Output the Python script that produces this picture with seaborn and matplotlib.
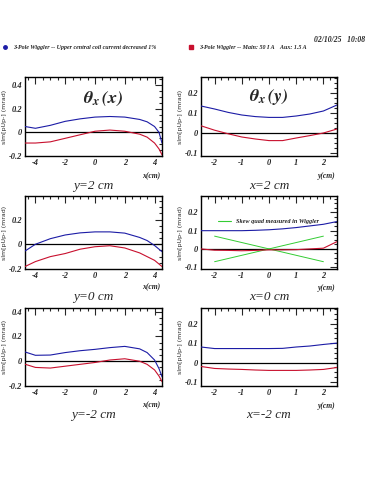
import numpy as np
import seaborn as sns
import matplotlib.pyplot as plt
from matplotlib.ticker import MultipleLocator
from matplotlib.lines import Line2D

# sample positions (cm)
x_pos = [-4.7, -4, -3, -2, -1, 0, 1, 2, 3, 3.5, 4, 4.3, 4.5]
y_pos = [-2.5, -2, -1.5, -1, -0.5, 0, 0.5, 1, 1.5, 2, 2.5]

# theta_x(x) at y = 2, 0, -2 cm
blue_y2 = [0.05, 0.035, 0.06, 0.094, 0.115, 0.13, 0.135, 0.13, 0.11, 0.09, 0.05, 0.0, -0.09]
red_y2 = [-0.09, -0.09, -0.08, -0.05, -0.02, 0.01, 0.02, 0.01, -0.015, -0.04, -0.09, -0.14, -0.19]
blue_y0 = [-0.055, 0.0, 0.045, 0.075, 0.092, 0.1, 0.1, 0.09, 0.055, 0.03, -0.01, -0.04, -0.06]
red_y0 = [-0.18, -0.14, -0.1, -0.075, -0.04, -0.02, -0.012, -0.03, -0.07, -0.1, -0.13, -0.16, -0.18]
blue_ym2 = [0.075, 0.048, 0.05, 0.07, 0.085, 0.096, 0.11, 0.12, 0.1, 0.07, 0.01, -0.06, -0.125]
red_ym2 = [-0.024, -0.05, -0.055, -0.04, -0.025, -0.01, 0.01, 0.02, 0.0, -0.025, -0.07, -0.12, -0.165]

# theta_x(y) at x = 2, 0, -2 cm
blue_x2 = [0.135, 0.12, 0.103, 0.09, 0.082, 0.078, 0.078, 0.085, 0.095, 0.11, 0.14]
red_x2 = [0.036, 0.014, -0.004, -0.02, -0.03, -0.038, -0.038, -0.025, -0.013, 0.0, 0.02]
blue_x0 = [0.1, 0.1, 0.1, 0.1, 0.102, 0.105, 0.11, 0.117, 0.126, 0.135, 0.15]
red_x0 = [0.0, -0.007, -0.008, -0.01, -0.008, -0.005, -0.005, -0.004, 0.0, 0.004, 0.04]
blue_xm2 = [0.08, 0.072, 0.072, 0.072, 0.072, 0.072, 0.073, 0.08, 0.085, 0.093, 0.1]
red_xm2 = [-0.02, -0.03, -0.033, -0.035, -0.038, -0.04, -0.04, -0.04, -0.038, -0.035, -0.025]

# skew quad lines
skew_y = [-2, 2]
skew_a = [0.07, -0.07]
skew_b = [-0.07, 0.07]

BLUE = '#1c1ca6'
RED = '#c8102e'
GREEN = '#33cc33'

sns.set_style('white')
plt.rcParams['font.family'] = ['Liberation Serif', 'DejaVu Sans']
plt.rcParams['font.style'] = 'italic'
plt.rcParams['font.weight'] = 'bold'
plt.rcParams['axes.unicode_minus'] = False
plt.rcParams['mathtext.fontset'] = 'stix'

fig = plt.figure(figsize=(3.75, 5), dpi=100)

left_x, left_w = 25 / 375, 137 / 375
right_x, right_w = 201 / 375, 136 / 375
rows = [(1 - 156 / 500, 79 / 500), (1 - 269 / 500, 73 / 500), (1 - 386 / 500, 78 / 500)]

left_data = [(blue_y2, red_y2, (-0.2, 0.47), 'y=2 cm'),
             (blue_y0, red_y0, (-0.2, 0.39), 'y=0 cm'),
             (blue_ym2, red_ym2, (-0.2, 0.43), 'y=-2 cm')]
right_data = [(blue_x2, red_x2, (-0.115, 0.28), 'x=2 cm'),
              (blue_x0, red_x0, (-0.11, 0.29), 'x=0 cm'),
              (blue_xm2, red_xm2, (-0.12, 0.28), 'x=-2 cm')]


def style_axis(ax, xlim, ylim, xmaj, xmin, ymaj, ymin, xlab):
    ax.set_xlim(*xlim)
    ax.set_ylim(*ylim)
    ax.xaxis.set_major_locator(MultipleLocator(xmaj))
    ax.xaxis.set_minor_locator(MultipleLocator(xmin))
    ax.yaxis.set_major_locator(MultipleLocator(ymaj))
    ax.yaxis.set_minor_locator(MultipleLocator(ymin))
    fmt = plt.FuncFormatter(lambda v, p: '0' if abs(v) < 1e-9 else f'{v:g}')
    ax.xaxis.set_major_formatter(fmt)
    ax.yaxis.set_major_formatter(fmt)
    ax.tick_params(which='both', direction='in', top=True, right=True, width=0.8, pad=2,
                   labelsize=6)
    ax.tick_params(which='major', length=5)
    ax.tick_params(which='minor', length=2.5)
    for s in ax.spines.values():
        s.set_linewidth(1.0)
        s.set_color('black')
    ax.set_xlabel('')
    ax.set_ylabel('slm[pUp-] (mrad)', fontsize=4.5, labelpad=1, style='normal', weight='normal',
                  family='DejaVu Sans')
    ax.text(0.985, -0.2, xlab, transform=ax.transAxes, ha='right', va='top', size=5.5)
    ax.axhline(0, color='black', lw=0.9, zorder=1)


for (bottom, h), (b, r, ylim, lab) in zip(rows, left_data):
    ax = fig.add_axes([left_x, bottom, left_w, h])
    sns.lineplot(x=x_pos, y=b, ax=ax, color=BLUE, lw=0.8, zorder=3)
    sns.lineplot(x=x_pos, y=r, ax=ax, color=RED, lw=0.8, zorder=3)
    style_axis(ax, (-4.7, 4.5), ylim, 2, 0.5, 0.2, 0.05, 'x(cm)')
    ax.text(0.5, -0.3, lab, transform=ax.transAxes, ha='center', va='top',
            weight='normal', size=9.5)
    if lab == 'y=2 cm':
        ax.text(0.57, 0.72, r'$\mathbf{\theta_x\,}\mathit{(x)}$', transform=ax.transAxes,
                ha='center', va='center', size=13)

for (bottom, h), (b, r, ylim, lab) in zip(rows, right_data):
    ax = fig.add_axes([right_x, bottom, right_w, h])
    sns.lineplot(x=y_pos, y=b, ax=ax, color=BLUE, lw=0.8, zorder=3)
    sns.lineplot(x=y_pos, y=r, ax=ax, color=RED, lw=0.8, zorder=3)
    if lab == 'x=0 cm':
        sns.lineplot(x=skew_y, y=skew_a, ax=ax, color=GREEN, lw=0.7, zorder=2)
        sns.lineplot(x=skew_y, y=skew_b, ax=ax, color=GREEN, lw=0.7, zorder=2)
        handle = Line2D([], [], color=GREEN, lw=0.8)
        ax.legend([handle], ['Skew quad measured in Wiggler'], loc='center left',
                  bbox_to_anchor=(0.08, 0.65), frameon=False, handlelength=2.2,
                  prop=dict(style='italic', weight='bold', size=4.5))
    style_axis(ax, (-2.5, 2.5), ylim, 1, 0.25, 0.1, 0.025, 'y(cm)')
    ax.text(0.5, -0.3, lab, transform=ax.transAxes, ha='center', va='top',
            weight='normal', size=9.5)
    if lab == 'x=2 cm':
        ax.text(0.5, 0.75, r'$\mathbf{\theta_x\,}\mathit{(y)}$', transform=ax.transAxes,
                ha='center', va='center', size=13)

# header: timestamp and legend
fig.text(0.975, 1 - 40 / 500, '02/10/25   10:08', ha='right', va='center', size=5.5)
fig.lines.append(Line2D([5 / 375], [1 - 47 / 500], marker='o', ms=2.5, color=BLUE,
                        transform=fig.transFigure, ls=''))
fig.text(13 / 375, 1 - 47 / 500, '3-Pole Wiggler -- Upper central coil current decreased 1%',
         ha='left', va='center', size=4.3)
fig.lines.append(Line2D([191 / 375], [1 - 47 / 500], marker='s', ms=2.5, color=RED,
                        transform=fig.transFigure, ls=''))
fig.text(199 / 375, 1 - 47 / 500, '3-Pole Wiggler -- Main: 50 I A    Aux: 1.5 A',
         ha='left', va='center', size=4.3)

fig.savefig('out.png', dpi=100)
